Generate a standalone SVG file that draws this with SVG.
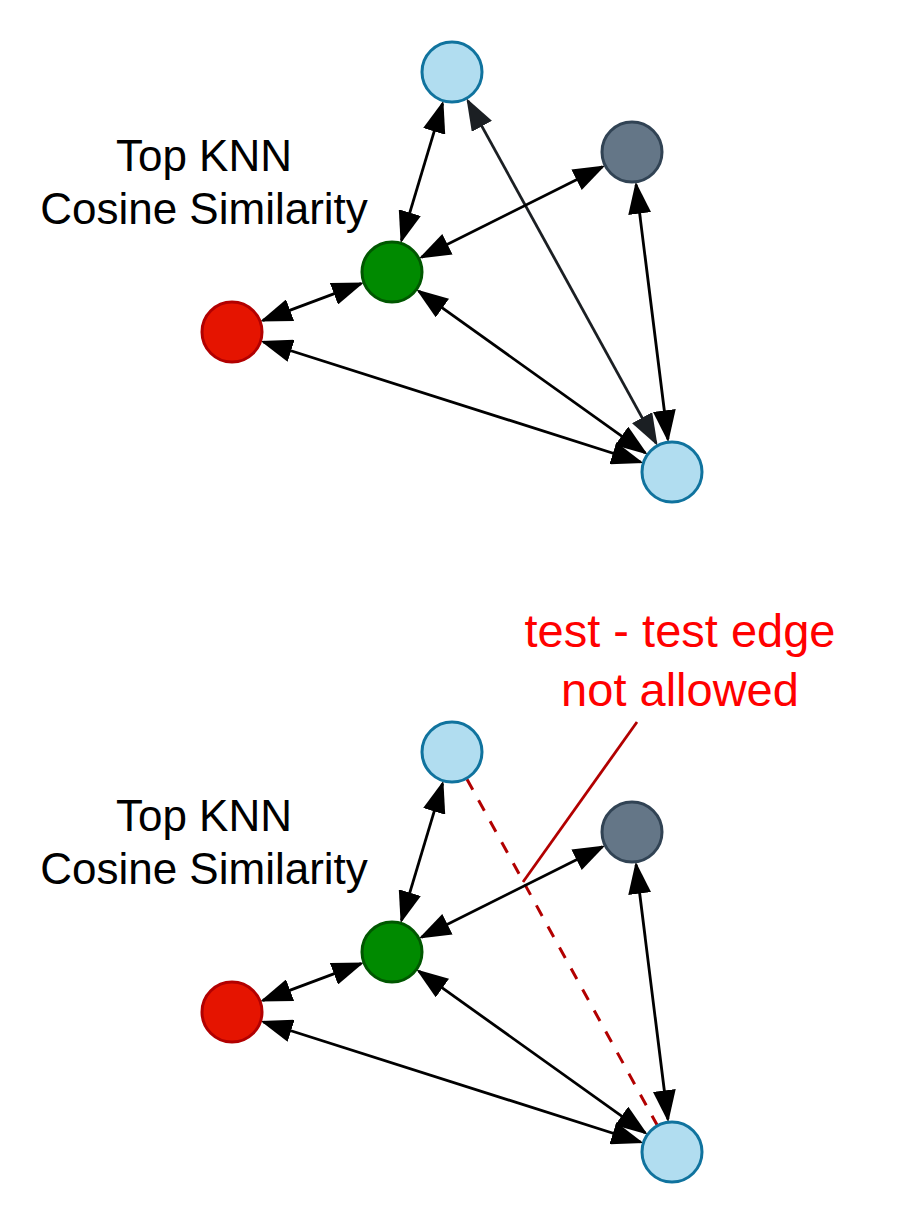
<svg xmlns="http://www.w3.org/2000/svg" width="924" height="1224" viewBox="0 0 924 1224">
  <style>
    .edge { stroke: #000000; stroke-width: 2.8; fill: none; marker-start: url(#arrow); marker-end: url(#arrow); }
    .edge-dark { stroke: #1b1f23; stroke-width: 2.8; fill: none; marker-start: url(#arrowDark); marker-end: url(#arrowDark); }
    .blue { fill: #b1ddf0; stroke: #10739e; stroke-width: 3; }
    .gray { fill: #647687; stroke: #314354; stroke-width: 3; }
    .green { fill: #008a00; stroke: #005700; stroke-width: 3; }
    .red { fill: #e51400; stroke: #b20000; stroke-width: 3; }
    .label { font-family: "Liberation Sans", Arial, Helvetica, sans-serif; font-size: 44px; fill: #000000; text-anchor: middle; }
    .warn { font-family: "Liberation Sans", Arial, Helvetica, sans-serif; font-size: 47px; fill: #ff0000; text-anchor: middle; }
  </style>
  <defs>
    <marker id="arrow" viewBox="0 0 32 23" refX="29" refY="11.5" markerWidth="32" markerHeight="23" markerUnits="userSpaceOnUse" orient="auto-start-reverse">
      <path d="M0,0 L32,11.5 L0,23 z" fill="#000000"/>
    </marker>
    <marker id="arrowDark" viewBox="0 0 32 23" refX="29" refY="11.5" markerWidth="32" markerHeight="23" markerUnits="userSpaceOnUse" orient="auto-start-reverse">
      <path d="M0,0 L32,11.5 L0,23 z" fill="#1b1f23"/>
    </marker>
  </defs>
  <rect width="924" height="1224" fill="#ffffff"/>

  <!-- Top panel -->
  <g id="connectors-top">
    <line class="edge" x1="442.52" y1="103.61" x2="401.48" y2="240.39"/>
    <line class="edge-dark" x1="467.90" y1="100.92" x2="656.10" y2="443.08"/>
    <line class="edge" x1="602.48" y1="166.76" x2="421.52" y2="257.24"/>
    <line class="edge" x1="636.09" y1="184.75" x2="667.91" y2="439.25"/>
    <line class="edge" x1="361.10" y1="283.59" x2="262.90" y2="320.41"/>
    <line class="edge" x1="418.85" y1="291.18" x2="645.15" y2="452.82"/>
    <line class="edge" x1="263.45" y1="342.01" x2="640.55" y2="461.99"/>
  </g>
  <g id="label-top">
    <text class="label" x="204" y="171">Top KNN</text>
    <text class="label" x="204" y="224">Cosine Similarity</text>
  </g>
  <g id="node-top-test1"><circle class="blue" cx="452" cy="72" r="30"/></g>
  <g id="node-top-gray"><circle class="gray" cx="632" cy="152" r="30"/></g>
  <g id="node-top-green"><circle class="green" cx="392" cy="272" r="30"/></g>
  <g id="node-top-red"><circle class="red" cx="232" cy="332" r="30"/></g>
  <g id="node-top-test2"><circle class="blue" cx="672" cy="472" r="30"/></g>

  <!-- Bottom panel -->
  <g id="connectors-bottom">
    <line class="edge" x1="442.52" y1="783.61" x2="401.48" y2="920.39"/>
    <line x1="467.0" y1="779.2" x2="657.0" y2="1124.8" stroke="#b20000" stroke-width="3" stroke-dasharray="12 12" fill="none"/>
    <line class="edge" x1="602.48" y1="846.76" x2="421.52" y2="937.24"/>
    <line class="edge" x1="636.09" y1="864.75" x2="667.91" y2="1119.25"/>
    <line class="edge" x1="361.10" y1="963.59" x2="262.90" y2="1000.41"/>
    <line class="edge" x1="418.85" y1="971.18" x2="645.15" y2="1132.82"/>
    <line class="edge" x1="263.45" y1="1022.01" x2="640.55" y2="1141.99"/>
    <line x1="637" y1="722" x2="523" y2="882" stroke="#b20000" stroke-width="2.8" fill="none"/>
  </g>
  <g id="label-bottom">
    <text class="label" x="204" y="831">Top KNN</text>
    <text class="label" x="204" y="884">Cosine Similarity</text>
  </g>
  <g id="label-warning">
    <text class="warn" x="680" y="647">test - test edge</text>
    <text class="warn" x="680" y="706">not allowed</text>
  </g>
  <g id="node-bottom-test1"><circle class="blue" cx="452" cy="752" r="30"/></g>
  <g id="node-bottom-gray"><circle class="gray" cx="632" cy="832" r="30"/></g>
  <g id="node-bottom-green"><circle class="green" cx="392" cy="952" r="30"/></g>
  <g id="node-bottom-red"><circle class="red" cx="232" cy="1012" r="30"/></g>
  <g id="node-bottom-test2"><circle class="blue" cx="672" cy="1152" r="30"/></g>
</svg>
